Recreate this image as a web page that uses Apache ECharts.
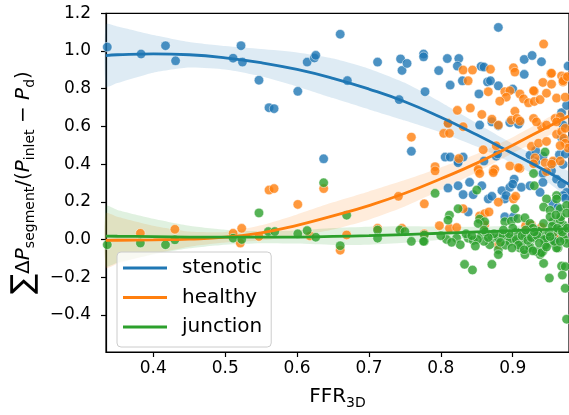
<!DOCTYPE html>
<html><head><meta charset="utf-8">
<script src="https://cdn.jsdelivr.net/npm/echarts@6/dist/echarts.min.js"></script>
<style>html,body{margin:0;padding:0;background:#fff}#c{width:569px;height:415px}</style>
</head><body><div id="c"></div><script>
// ---- data ----
const xTicks = [0.4, 0.5, 0.6, 0.7, 0.8, 0.9];
const yTicks = [-0.4, -0.2, 0.0, 0.2, 0.4, 0.6, 0.8, 1.0, 1.2];
const seriesNames = ['stenotic', 'healthy', 'junction'];

const stenoticX = [0.336,0.383,0.417,0.431,0.511,0.522,0.524,0.547,0.561,0.568,0.601,0.614,0.624,0.626,0.637,0.660,0.670,0.712,0.742,0.744,0.746,0.753,0.776,0.776,0.778,0.759,0.797,0.809,0.813,0.825,0.823,0.830,0.856,0.860,0.865,0.869,0.853,0.880,0.880,0.916,0.927,0.916,0.940,0.977,0.900,0.854,0.871,0.880,0.810,0.896,0.910,0.908,0.806,0.813,0.824,0.831,0.824,0.860,0.877,0.879,0.924,0.932,0.942,0.954,0.965,0.973,0.942,0.956,0.970,0.932,0.961,0.968,0.810,0.824,0.840,0.857,0.885,0.896,0.902,0.912,0.924,0.938,0.975,0.831,0.845,0.866,0.871,0.889,0.891,0.838,0.889,0.901,0.949,0.956,0.970,0.973,0.968,0.975,0.970,0.968,0.942,0.900,0.956,0.963,0.963];
const stenoticY = [1.021,0.984,1.028,0.948,0.962,1.028,0.941,0.845,0.699,0.694,0.786,0.941,0.963,0.977,0.428,1.089,0.843,0.941,0.742,0.958,0.897,0.934,0.984,0.969,0.784,0.468,0.896,0.960,0.819,0.960,0.920,0.842,0.918,0.915,0.836,0.842,0.772,1.125,0.815,0.955,0.976,0.876,0.943,0.920,0.798,0.607,0.624,0.604,0.616,0.620,0.624,0.612,0.437,0.437,0.416,0.437,0.407,0.416,0.442,0.454,0.447,0.412,0.351,0.364,0.450,0.454,0.442,0.407,0.398,0.471,0.320,0.294,0.273,0.285,0.303,0.285,0.259,0.277,0.320,0.277,0.285,0.250,0.250,0.238,0.238,0.215,0.229,0.215,0.233,0.146,0.120,0.120,0.007,-0.002,0.233,0.219,0.673,0.711,0.607,0.540,0.303,0.294,0.190,0.170,0.005];

const healthyX = [0.382,0.430,0.511,0.523,0.521,0.547,0.561,0.568,0.601,0.618,0.637,0.660,0.669,0.712,0.746,0.741,0.777,0.777,0.759,0.943,0.831,0.844,0.838,0.869,0.901,0.903,0.866,0.823,0.841,0.857,0.871,0.880,0.810,0.804,0.812,0.831,0.859,0.896,0.910,0.852,0.873,0.792,0.792,0.953,0.968,0.972,0.942,0.954,0.970,0.889,0.896,0.891,0.910,0.915,0.922,0.930,0.930,0.938,0.947,0.961,0.973,0.882,0.903,0.898,0.906,0.910,0.929,0.959,0.966,0.825,0.852,0.854,0.875,0.873,0.908,0.877,0.926,0.936,0.931,0.929,0.947,0.961,0.968,0.971,0.973,0.945,0.956,0.966,0.947,0.940,0.947,0.961,0.973,0.933,0.977,0.831,0.880,0.901,0.904,0.854,0.861,0.867,0.861,0.798,0.812,0.822,0.918,0.926,0.880,0.954,0.970,0.976,0.929,0.966,0.954,0.940,0.964];
const healthyY = [0.033,0.054,0.033,0.059,-0.019,0.016,0.262,0.270,0.186,0.019,0.270,-0.057,0.024,0.059,0.059,0.229,0.189,0.030,0.543,1.037,0.899,0.899,0.842,0.903,0.911,0.888,0.784,0.685,0.697,0.663,0.638,0.607,0.616,0.563,0.563,0.598,0.476,0.390,0.377,0.364,0.364,0.386,0.364,0.880,0.868,0.859,0.833,0.824,0.836,0.784,0.789,0.755,0.772,0.746,0.725,0.786,0.732,0.742,0.776,0.750,0.755,0.734,0.680,0.633,0.642,0.628,0.642,0.642,0.651,0.429,0.372,0.350,0.372,0.355,0.381,0.497,0.494,0.511,0.433,0.402,0.520,0.558,0.572,0.537,0.511,0.407,0.416,0.416,0.360,0.598,0.607,0.624,0.590,0.624,0.485,0.163,0.198,0.215,0.229,0.125,0.137,0.146,0.077,0.073,0.059,0.063,0.073,0.077,-0.028,0.882,0.842,0.864,0.789,0.498,0.400,0.065,0.030];

const junctionX = [0.336,0.382,0.417,0.430,0.511,0.523,0.547,0.560,0.569,0.601,0.614,0.626,0.637,0.660,0.669,0.712,0.712,0.743,0.750,0.759,0.777,0.777,0.792,0.833,0.844,0.871,0.943,0.951,0.968,0.973,0.969,0.973,0.975,0.880,0.880,0.942,0.938,0.952,0.963,0.924,0.945,0.929,0.930,0.850,0.961,0.824,0.812,0.810,0.854,0.861,0.852,0.889,0.898,0.907,0.917,0.924,0.947,0.961,0.943,0.952,0.966,0.975,0.943,0.956,0.970,0.952,0.966,0.903,0.776,0.808,0.822,0.838,0.857,0.871,0.880,0.892,0.901,0.917,0.929,0.940,0.956,0.970,0.827,0.868,0.896,0.910,0.924,0.933,0.940,0.917,0.961,0.800,0.815,0.845,0.862,0.885,0.905,0.912,0.935,0.948,0.958,0.965,0.972,0.928,0.890,0.860,0.835,0.900,0.920,0.945,0.967,0.960,0.975,0.975,
  0.905,0.913,0.921,0.926,0.934,0.944,0.950,0.937,0.908,0.895,0.883,0.874,0.866,0.851,0.843,0.916,0.928,0.947,0.955,0.962,0.969,0.976,0.966,0.952,0.930,0.918,0.899,0.887,0.860,0.848];
const junctionY = [-0.028,-0.019,-0.028,-0.002,0.007,0.000,0.141,0.042,0.042,0.030,0.047,0.012,0.301,-0.033,0.129,0.050,0.007,0.050,0.042,-0.010,0.024,-0.010,0.245,-0.132,-0.162,-0.132,-0.127,-0.205,-0.141,-0.144,-0.189,-0.259,-0.423,-0.054,-0.080,-0.063,-0.080,-0.019,-0.045,-0.037,0.464,0.350,0.285,0.262,0.233,0.163,0.129,0.103,0.108,0.094,0.085,0.094,0.097,0.111,0.115,0.085,0.215,0.215,0.172,0.155,0.163,0.181,0.085,0.094,0.077,0.120,0.103,0.163,-0.010,0.000,0.007,0.007,0.024,0.007,0.007,0.015,0.007,0.015,0.007,0.024,0.033,0.024,-0.028,-0.028,-0.010,-0.045,-0.045,-0.063,-0.070,-0.080,-0.045,0.020,-0.015,-0.005,0.040,0.030,0.040,-0.020,0.045,0.010,-0.010,0.050,0.000,0.060,-0.030,-0.010,0.030,0.060,0.030,-0.030,0.120,0.130,0.140,-0.020,
  0.000,0.020,-0.005,0.010,0.020,0.000,0.040,-0.020,-0.030,0.030,-0.015,0.030,0.010,0.000,0.020,-0.055,-0.060,-0.040,0.070,0.060,0.040,0.060,-0.010,0.015,0.040,0.050,-0.045,0.050,0.050,-0.035];

// regression curves and confidence bands (read at these x positions)
const fitX = [0.334,0.35,0.4,0.45,0.5,0.55,0.6,0.65,0.7,0.75,0.8,0.85,0.9,0.95,0.978];
const stenoticFit = [0.976,0.980,0.985,0.980,0.964,0.938,0.902,0.855,0.798,0.731,0.648,0.555,0.456,0.355,0.293];
const stenoticLo  = [0.811,0.830,0.885,0.912,0.902,0.866,0.812,0.750,0.690,0.631,0.568,0.493,0.404,0.300,0.228];
const stenoticHi  = [1.141,1.130,1.085,1.048,1.026,1.010,0.992,0.960,0.906,0.831,0.728,0.617,0.508,0.410,0.358];
const healthyFit  = [-0.005,-0.004,-0.002,0.002,0.012,0.035,0.075,0.125,0.180,0.245,0.322,0.405,0.500,0.600,0.655];
const healthyLo   = [-0.150,-0.129,-0.077,-0.038,-0.016,-0.005,0.017,0.053,0.105,0.175,0.262,0.357,0.458,0.552,0.595];
const healthyHi   = [0.140,0.121,0.073,0.042,0.040,0.075,0.133,0.197,0.255,0.315,0.382,0.453,0.542,0.648,0.715];
const junctionFit = [0.018,0.017,0.015,0.013,0.012,0.012,0.013,0.016,0.020,0.026,0.033,0.040,0.047,0.054,0.058];
const junctionLo  = [-0.142,-0.123,-0.080,-0.047,-0.028,-0.020,-0.022,-0.029,-0.028,-0.018,-0.002,0.012,0.021,0.024,0.022];
const junctionHi  = [0.178,0.157,0.110,0.073,0.052,0.044,0.048,0.061,0.068,0.070,0.068,0.068,0.073,0.084,0.094];

// ---- chart ----
const colors = ['#1f77b4', '#ff7f0e', '#2ca02c'];
const bandColors = ['rgba(31,119,180,0.15)', 'rgba(255,127,14,0.15)', 'rgba(44,160,44,0.15)'];
const FONT = 'DejaVu Sans';
const pairs = (xs, ys) => xs.map((x, i) => [x, ys[i]]);

function scatterSeries(name, xs, ys, color) {
  return {
    type: 'scatter', name: name + ' points', z: 2, silent: true,
    data: pairs(xs, ys), symbol: 'circle', symbolSize: 9.5,
    itemStyle: { color: color, opacity: 0.8, borderColor: '#ffffff', borderWidth: 0.6 }
  };
}
function bandSeries(name, lo, hi, fill) {
  return {
    type: 'custom', name: name + ' band', z: 2, silent: true,
    data: fitX.map((x, i) => [x, lo[i], hi[i]]),
    encode: { x: 0, y: [1, 2] },
    renderItem: function (params, api) {
      if (params.dataIndex !== 0) return null;
      const pts = [];
      for (let i = 0; i < fitX.length; i++) pts.push(api.coord([fitX[i], hi[i]]));
      for (let i = fitX.length - 1; i >= 0; i--) pts.push(api.coord([fitX[i], lo[i]]));
      return { type: 'polygon', shape: { points: pts, smooth: 0.2 }, style: { fill: fill } };
    }
  };
}
function lineSeries(name, ys, color) {
  return {
    type: 'line', name: name, z: 3, silent: true,
    data: pairs(fitX, ys), showSymbol: false, smooth: true,
    color: color,
    itemStyle: { color: color },
    lineStyle: { color: color, width: 2.8 }
  };
}

const fmt = v => (v < 0 ? '\u2212' + Math.abs(v).toFixed(1) : v.toFixed(1));

const option = {
  animation: false,
  grid: { left: 106, right: 0, top: 13.3, bottom: 57.3, show: true, borderColor: '#000', borderWidth: 1.2, backgroundColor: 'transparent' },
  legend: {
    data: seriesNames.map(n => ({ name: n, icon: 'rect' })),
    orient: 'vertical', left: 117, top: 252,
    itemWidth: 44, itemHeight: 3, itemGap: 9.5,
    padding: [6, 9, 10, 6],
    backgroundColor: 'rgba(255,255,255,0.8)', borderColor: '#cccccc', borderWidth: 1, borderRadius: 4,
    textStyle: { fontFamily: FONT, fontSize: 20, color: '#000', lineHeight: 20, padding: [0, 0, 0, 10] },
    selectedMode: false
  },
  xAxis: {
    type: 'value', min: 0.3342, max: 0.9783,
    axisLine: { show: true, onZero: false, lineStyle: { color: '#000', width: 1.2 } },
    axisTick: { show: true, length: 5, customValues: xTicks, lineStyle: { color: '#000', width: 1.2 } },
    axisLabel: { customValues: xTicks, formatter: fmt, fontFamily: FONT, fontSize: 17, color: '#000', margin: 8 },
    splitLine: { show: false },
    name: '{m|FFR}{s|3D}', nameLocation: 'middle', nameGap: 32,
    nameTextStyle: {
      color: '#000',
      rich: {
        m: { fontFamily: FONT, fontSize: 20, lineHeight: 26, color: '#000' },
        s: { fontFamily: FONT, fontSize: 14, lineHeight: 14, verticalAlign: 'bottom', color: '#000' }
      }
    }
  },
  yAxis: {
    type: 'value', min: -0.597, max: 1.2,
    axisLine: { show: true, onZero: false, lineStyle: { color: '#000', width: 1.2 } },
    axisTick: { show: true, length: 5, customValues: yTicks, lineStyle: { color: '#000', width: 1.2 } },
    axisLabel: { customValues: yTicks, formatter: fmt, fontFamily: FONT, fontSize: 17, color: '#000', margin: 15 },
    splitLine: { show: false },
    name: '{sum|\u2211}{m|\u0394}{i|P}{s|segment}{m|/(}{i|P}{s|inlet}{m| \u2212 }{i|P}{s|d}{m|)}',
    nameLocation: 'middle', nameGap: 62, nameRotate: 90,
    nameTextStyle: {
      color: '#000',
      rich: {
        sum: { fontFamily: FONT, fontSize: 30, lineHeight: 28, color: '#000' },
        m: { fontFamily: FONT, fontSize: 20, lineHeight: 28, color: '#000' },
        i: { fontFamily: FONT, fontSize: 20, lineHeight: 28, fontStyle: 'italic', color: '#000' },
        s: { fontFamily: FONT, fontSize: 14, lineHeight: 14, verticalAlign: 'bottom', color: '#000' }
      }
    }
  },
  series: [
    scatterSeries('stenotic', stenoticX, stenoticY, colors[0]),
    bandSeries('stenotic', stenoticLo, stenoticHi, bandColors[0]),
    scatterSeries('healthy', healthyX, healthyY, colors[1]),
    bandSeries('healthy', healthyLo, healthyHi, bandColors[1]),
    scatterSeries('junction', junctionX, junctionY, colors[2]),
    bandSeries('junction', junctionLo, junctionHi, bandColors[2]),
    lineSeries('stenotic', stenoticFit, colors[0]),
    lineSeries('healthy', healthyFit, colors[1]),
    lineSeries('junction', junctionFit, colors[2])
  ]
};
const chart = echarts.init(document.getElementById('c'), null, { renderer: 'canvas' });
chart.setOption(option);
</script></body></html>
